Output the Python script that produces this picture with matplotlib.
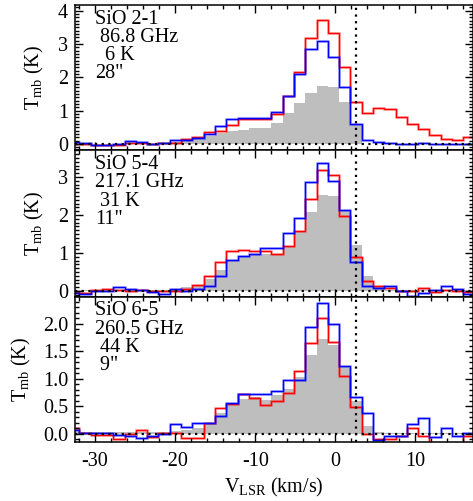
import numpy as np
import matplotlib
matplotlib.use("Agg")
import matplotlib.pyplot as plt
from matplotlib.ticker import MultipleLocator, FormatStrFormatter

plt.rcParams['font.family'] = ['Liberation Serif', 'DejaVu Serif']
plt.rcParams['mathtext.fontset'] = 'custom'
plt.rcParams['mathtext.rm'] = 'Liberation Serif'
plt.rcParams['mathtext.it'] = 'Liberation Serif:italic'
plt.rcParams['axes.unicode_minus'] = False

# channel centres (km/s), 1.41 km/s wide
vel = [-32.65, -31.24, -29.83, -28.42, -27.01, -25.60, -24.19, -22.78, -21.37,
       -19.96, -18.55, -17.14, -15.73, -14.32, -12.91, -11.50, -10.09, -8.68,
       -7.27, -5.86, -4.45, -3.04, -1.63, -0.22, 1.19, 2.60, 4.01, 5.42,
       6.83, 8.24, 9.65, 11.06, 12.47, 13.88, 15.29, 16.70]
v_sys = 2.6

# SiO 2-1
red21 = [0.0, 0.0, -0.03, -0.03, -0.02, 0.02, 0.03, 0.0, 0.02, 0.04, 0.16, 0.2,
         0.35, 0.4, 0.57, 0.75, 0.75, 0.75, 0.89, 1.44, 2.17, 3.19, 3.72, 3.32,
         2.32, 1.26, 0.93, 1.09, 1.05, 0.82, 0.61, 0.46, 0.27, 0.14, 0.12, 0.20]
blue21 = [0.05, 0.04, -0.03, -0.03, 0.01, 0.09, 0.07, 0.01, 0.04, 0.12, 0.12, 0.18,
          0.29, 0.54, 0.76, 0.79, 0.79, 0.79, 0.97, 1.45, 2.10, 2.85, 3.09, 2.61,
          1.70, 0.61, 0.12, 0.05, 0.02, 0.0, 0.0, 0.04, 0.0, -0.01, -0.01, -0.01]
gray21 = [0.0, 0.0, 0.0, 0.0, 0.0, 0.0, 0.0, 0.0, 0.03, 0.06, 0.10, 0.15,
          0.25, 0.33, 0.40, 0.43, 0.47, 0.49, 0.62, 0.92, 1.23, 1.53, 1.74, 1.72,
          1.27, 0.60, 0.0, 0.0, 0.0, 0.0, 0.0, 0.0, 0.0, 0.0, 0.0, 0.0]

# SiO 5-4
red54 = [-0.02, -0.05, 0.03, 0.06, 0.03, -0.01, 0.02, 0.0, 0.0, -0.01, 0.06, 0.15,
         0.40, 0.75, 1.04, 1.07, 1.04, 1.04, 0.97, 1.19, 1.58, 2.42, 3.18, 3.05,
         1.98, 0.90, 0.25, 0.13, 0.07, 0.0, 0.0, 0.07, -0.04, 0.03, 0.0, -0.03]
blue54 = [-0.05, -0.07, 0.0, 0.0, 0.09, 0.05, 0.03, -0.02, -0.07, 0.04, 0.0, 0.05,
          0.12, 0.39, 0.82, 0.92, 0.98, 1.12, 1.12, 1.52, 1.93, 2.87, 3.37, 2.90,
          2.12, 0.77, 0.13, 0.07, 0.14, 0.0, -0.14, -0.06, 0.03, 0.12, 0.06, -0.09]
gray54 = [0.02, 0.02, 0.02, 0.02, 0.02, 0.02, 0.02, 0.02, 0.02, 0.04, 0.09, 0.12,
          0.32, 0.54, 0.79, 0.92, 0.98, 0.98, 0.96, 1.18, 1.56, 2.09, 2.52, 2.50,
          2.12, 1.20, 0.39, 0.09, 0.03, 0.02, 0.02, 0.02, 0.02, 0.02, 0.02, 0.02]

# SiO 6-5
red65 = [0.10, 0.02, -0.02, -0.02, -0.10, 0.0, 0.07, -0.06, 0.01, 0.01, -0.08, -0.08,
         0.20, 0.46, 0.55, 0.73, 0.65, 0.52, 0.59, 0.75, 1.15, 1.65, 2.11, 1.67,
         1.05, 0.49, 0.0, -0.10, -0.10, -0.05, 0.11, -0.04, -0.18, -0.18, -0.18, -0.04]
blue65 = [0.06, 0.02, 0.02, 0.02, -0.03, -0.05, -0.08, -0.05, 0.0, 0.18, 0.12, 0.20,
          0.20, 0.33, 0.56, 0.73, 0.73, 0.72, 0.78, 0.97, 0.97, 1.94, 2.38, 2.00,
          1.24, 0.66, 0.37, -0.11, -0.04, -0.05, 0.18, 0.28, -0.06, 0.11, -0.05, 0.02]
gray65 = [0.03, 0.03, 0.03, 0.03, 0.03, 0.03, 0.03, 0.03, 0.03, 0.05, 0.07, 0.10,
          0.19, 0.38, 0.54, 0.63, 0.66, 0.62, 0.71, 0.81, 1.04, 1.44, 1.72, 1.62,
          1.24, 0.60, 0.14, 0.04, 0.02, 0.02, 0.02, 0.02, 0.02, 0.02, 0.02, 0.02]

labels = [["SiO 2-1", " 86.8 GHz", "  6 K", '28"'],
          ["SiO 5-4", "217.1 GHz", " 31 K", '11"'],
          ["SiO 6-5", "260.5 GHz", " 44 K", ' 9"']]
ylims = [(-0.18, 4.17), (-0.16, 3.71), (-0.15, 2.49)]
ymaj = [1, 1, 0.5]
spectra = [(red21, blue21, gray21), (red54, blue54, gray54), (red65, blue65, gray65)]

v = np.array(vel)
edges = np.append(v - 0.705, v[-1] + 0.705)

fig = plt.figure(figsize=(4.73, 5.01), dpi=100)
boxes = [[0.1586, 0.7006, 0.8414, 0.2894],
         [0.1586, 0.4072, 0.8414, 0.2934],
         [0.1586, 0.1178, 0.8414, 0.2894]]
ylab_x = [-0.072, -0.072, -0.105]

for i in range(3):
    ax = fig.add_axes(boxes[i])
    red, blue, gray = spectra[i]
    ax.stairs(gray, edges, fill=True, baseline=0, color='#bebebe', lw=0)
    for vals, col in [(red, 'red'), (blue, 'blue')]:
        ax.stairs(vals, edges, baseline=None, color=col, lw=2.0, alpha=0.3)
        ax.stairs(vals, edges, baseline=None, color=col, lw=1.0)
    ax.axhline(0, color='k', ls=(0, (1, 2)), lw=1.6)
    ax.axvline(v_sys, color='k', ls=(0, (1, 2)), lw=1.6)
    ax.set_xlim(-32.5, 17.2)
    ax.set_ylim(*ylims[i])
    ax.xaxis.set_major_locator(MultipleLocator(10))
    ax.xaxis.set_minor_locator(MultipleLocator(2))
    ax.yaxis.set_major_locator(MultipleLocator(ymaj[i]))
    ax.yaxis.set_minor_locator(MultipleLocator(0.1))
    ax.tick_params(which='both', direction='in', top=True, right=True,
                   width=1, labelsize=14.5)
    ax.tick_params(which='major', length=6)
    ax.tick_params(which='minor', length=3)
    ax.tick_params(axis='y', pad=5)
    ax.tick_params(axis='x', pad=7)
    for s in ax.spines.values():
        s.set_linewidth(1.1)
    if i < 2:
        ax.tick_params(labelbottom=False)
    else:
        ax.yaxis.set_major_formatter(FormatStrFormatter('%.1f'))
        ax.set_xlabel(r'V$_{\rm LSR}$ (km/s)', fontsize=14.5, labelpad=4)
    ax.set_ylabel(r'T$_{\rm mb}$ (K)', fontsize=14.5)
    ax.yaxis.set_label_coords(ylab_x[i], 0.5)
    for j, t in enumerate(labels[i]):
        ax.text(0.05, 1 - (18.5 + 18.2 * j) / 145, t, transform=ax.transAxes,
                fontsize=14.5, ha='left', va='baseline')

fig.savefig('out.png', dpi=100)
